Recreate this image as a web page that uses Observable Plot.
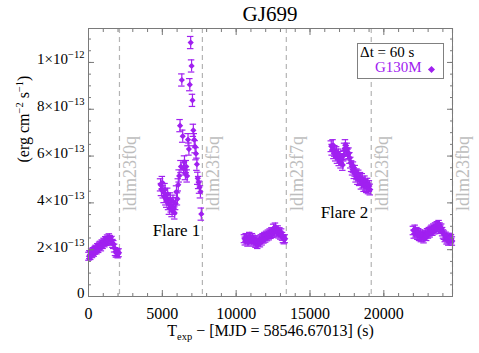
<!DOCTYPE html>
<html><head><meta charset="utf-8">
<script src="https://cdn.jsdelivr.net/npm/d3@7"></script>
<script src="https://cdn.jsdelivr.net/npm/@observablehq/plot@0.6"></script>
<style>
body{margin:0;background:#fff;}
#wrap{position:relative;width:479px;height:353px;font-family:"Liberation Serif","Times New Roman",Times,serif;}
#wrap svg text{font-family:"Liberation Serif","Times New Roman",Times,serif;}
#title{position:absolute;left:0;width:540px;top:2px;text-align:center;font-size:21px;line-height:24px;color:#000;}
#legend{position:absolute;left:357px;top:43px;width:85px;height:34px;border:1px solid #808080;background:#fff;}
.lg{position:absolute;font-family:"Liberation Serif","Times New Roman",Times,serif;font-size:15px;line-height:15px;white-space:nowrap;}
.dia{position:absolute;width:5px;height:5px;transform:rotate(45deg);}
</style></head><body><div id="wrap"></div>
<script>
const title = "GJ699";
const xLabel = "T_{exp} − [MJD = 58546.67013] (s)";
const yLabel = "(erg cm^{−2} s^{−1})";
const legendTitle = "Δt = 60 s";
const seriesName = "G130M";
const binSeconds = 60;
// segment start times (s) and per-segment flux errors (×1e-13)
const segmentStarts = [30, 4880, 10560, 16440, 22000];
const segmentErrors = [0.17, 0.26, 0.17, 0.23, 0.18];
// flux values, units of 1e-13 erg cm^-2 s^-1
const seg1 = [1.72,1.79,1.75,1.87,1.83,1.92,1.89,1.97,2.02,1.99,2.09,2.05,2.15,2.19,2.12,2.25,2.22,2.32,2.29,2.39,2.35,2.46,2.41,2.51,2.44,2.36,2.40,2.27,2.22,2.07,1.92,1.85,1.89,1.82,1.87];
const seg2 = [4.77,4.57,4.87,4.47,4.27,4.57,4.17,4.07,4.37,3.97,3.77,4.17,3.87,3.67,4.07,3.77,3.57,3.97,4.47,4.17,4.77,5.15,7.3,5.55,9.25,6.85,5.45,5.75,5.25,5.55,5.15,6.7,6.3,9.05,10.85,9.85,8.38,7.1,6.7,6.4,6.1,5.65,5.05,4.87,4.67,4.47,3.52];
const seg3 = [2.47,2.37,2.52,2.42,2.32,2.47,2.57,2.42,2.37,2.52,2.45,2.32,2.42,2.27,2.37,2.22,2.32,2.42,2.29,2.47,2.37,2.52,2.45,2.57,2.49,2.62,2.55,2.67,2.59,2.72,2.65,2.77,2.69,2.92,2.75,2.97,2.79,2.72,2.85,2.67,2.77,2.62,2.72,2.57,2.47,2.42,2.47];
const seg4 = [6.42,6.27,6.47,6.12,6.22,6.02,6.17,5.92,6.07,5.82,5.97,5.72,5.87,5.62,6.02,6.32,6.47,6.22,6.32,6.07,6.12,5.92,5.72,5.57,5.42,5.52,5.27,5.37,5.12,5.22,5.02,5.17,4.97,5.07,4.82,5.02,4.87,4.72,4.92,4.77,4.67,4.82,4.62,4.72,4.57];
const seg5 = [2.82,2.67,2.87,2.72,2.77,2.62,2.72,2.57,2.67,2.52,2.62,2.55,2.47,2.59,2.65,2.57,2.72,2.67,2.77,2.72,2.82,2.87,2.79,2.92,2.85,2.97,2.89,3.02,2.95,3.07,2.97,2.87,2.92,2.77,2.67,2.62,2.52,2.57,2.42,2.47,2.37,2.52,2.42,2.47,2.37];
const exposureEnds = [2097, 7713, 13396, 19147, 24650];
const exposureNames = ["ldlm23f0q","ldlm23f5q","ldlm23f7q","ldlm23f9q","ldlm23fbq"];
const flareLabels = ["Flare 1","Flare 2"];
const flareX = [5960, 17335];
const flareY = [2.82e-13, 3.59e-13];
const xTicks = [0,5000,10000,15000,20000];
const xTickLabels = ["0","5000","10000","15000","20000"];
const yTicks = [0,2e-13,4e-13,6e-13,8e-13,1e-12];
const yTickLabels = ["0","2×10^{−13}","4×10^{−13}","6×10^{−13}","8×10^{−13}","1×10^{−12}"];

const F = "Liberation Serif, Times New Roman, serif";
const xMax = 24650, yMax = 1.145e-12;
const purple = "#a020f0";
const frameGray = "#7a7a7a";
const capHalf = 220;

const segs = [seg1, seg2, seg3, seg4, seg5];
const data = segs.flatMap((vals, k) => vals.map((v, i) => ({
  t: segmentStarts[k] + i * binSeconds, v: v * 1e-13, e: segmentErrors[k] * 1e-13
})));
const minorX = d3.range(0, xMax, 1000);
const minorY = d3.range(0, yMax, 0.5e-13);

const tickAxes = [];
for (const anchor of ["bottom","top"]) {
  tickAxes.push(Plot.axisX(minorX, {anchor, tickSize: -3, tickFormat: () => "", label: null, stroke: frameGray}));
  tickAxes.push(Plot.axisX(xTicks, {anchor, tickSize: -6, tickFormat: () => "", label: null, stroke: frameGray}));
}
for (const anchor of ["left","right"]) {
  tickAxes.push(Plot.axisY(minorY, {anchor, tickSize: -3, tickFormat: () => "", label: null, stroke: frameGray}));
  tickAxes.push(Plot.axisY(yTicks, {anchor, tickSize: -6, tickFormat: () => "", label: null, stroke: frameGray}));
}

const chart = Plot.plot({
  width: 479, height: 353,
  marginLeft: 88, marginRight: 27, marginTop: 28, marginBottom: 57,
  style: {fontFamily: F, fontSize: "16px", background: "white", color: "black", overflow: "visible"},
  x: {domain: [0, xMax]},
  y: {domain: [0, yMax]},
  marks: [
    Plot.ruleX(exposureEnds, {stroke: "#b4b4b4", strokeDasharray: "5,4", strokeWidth: 1.2}),
    Plot.text(exposureNames, {x: (d, i) => exposureEnds[i], y: 3.65e-13, rotate: -90, textAnchor: "start", dx: 11, fill: "#bdbdbd", fontSize: 18, fontFamily: F}),
    Plot.ruleX(data, {x: "t", y1: d => d.v - d.e, y2: d => d.v + d.e, stroke: purple, strokeWidth: 1.2}),
    Plot.ruleY(data, {x1: d => d.t - capHalf, x2: d => d.t + capHalf, y: d => d.v + d.e, stroke: purple, strokeWidth: 1.2}),
    Plot.ruleY(data, {x1: d => d.t - capHalf, x2: d => d.t + capHalf, y: d => d.v - d.e, stroke: purple, strokeWidth: 1.2}),
    Plot.dot(data, {x: "t", y: "v", symbol: "diamond2", r: 2.8, fill: purple, stroke: null}),
    Plot.text(flareLabels, {x: (d, i) => flareX[i], y: (d, i) => flareY[i], fontSize: 17, fill: "black", fontFamily: F}),
    Plot.frame({stroke: frameGray}),
    ...tickAxes,
    Plot.axisX(xTicks, {anchor: "bottom", tickSize: 0, tickPadding: 11, tickFormat: d => xTickLabels[xTicks.indexOf(d)], label: null, fontSize: 16, fontFamily: F}),
    Plot.axisY(yTicks, {anchor: "left", tickSize: 0, tickPadding: 4, dy: -3, tickFormat: d => yTickLabels[yTicks.indexOf(d)], label: null, fontSize: 15, fontFamily: F}),
    Plot.text([xLabel], {frameAnchor: "bottom", dy: 39, fontSize: 16, fontFamily: F}),
    Plot.text([yLabel], {frameAnchor: "left", dx: -65, rotate: -90, fontSize: 16, fontFamily: F})
  ]
});

function richify(el) {
  const s = el.textContent;
  if (!/[\^_]\{/.test(s)) return;
  while (el.firstChild) el.removeChild(el.firstChild);
  const ns = "http://www.w3.org/2000/svg";
  const re = /([\^_])\{([^}]*)\}/g;
  let last = 0, m, shift = 0;
  const add = (txt, dy, size) => {
    const ts = document.createElementNS(ns, "tspan");
    ts.textContent = txt;
    if (dy) ts.setAttribute("dy", dy);
    if (size) ts.setAttribute("font-size", size);
    el.appendChild(ts);
  };
  while ((m = re.exec(s))) {
    if (m.index > last) { add(s.slice(last, m.index), -shift, null); shift = 0; }
    const d = m[1] === "^" ? -6 : 4;
    add(m[2], d - shift, "10.5px");
    shift = d;
    last = re.lastIndex;
  }
  if (last < s.length) add(s.slice(last), -shift, null);
}
chart.querySelectorAll("text").forEach(richify);

const wrap = document.getElementById("wrap");
wrap.appendChild(chart);
const t = document.createElement("div");
t.id = "title"; t.textContent = title;
wrap.appendChild(t);
const legend = document.createElement("div");
legend.id = "legend";
wrap.appendChild(legend);
const l1 = document.createElement("div");
l1.className = "lg"; l1.textContent = legendTitle;
l1.style.left = "360px"; l1.style.top = "45px"; l1.style.color = "black";
wrap.appendChild(l1);
const l2 = document.createElement("div");
l2.className = "lg"; l2.textContent = seriesName;
l2.style.left = "375px"; l2.style.top = "60px"; l2.style.color = purple;
wrap.appendChild(l2);
const dm = document.createElement("div");
dm.className = "dia"; dm.style.left = "429px"; dm.style.top = "67px"; dm.style.background = purple;
wrap.appendChild(dm);
</script></body></html>
